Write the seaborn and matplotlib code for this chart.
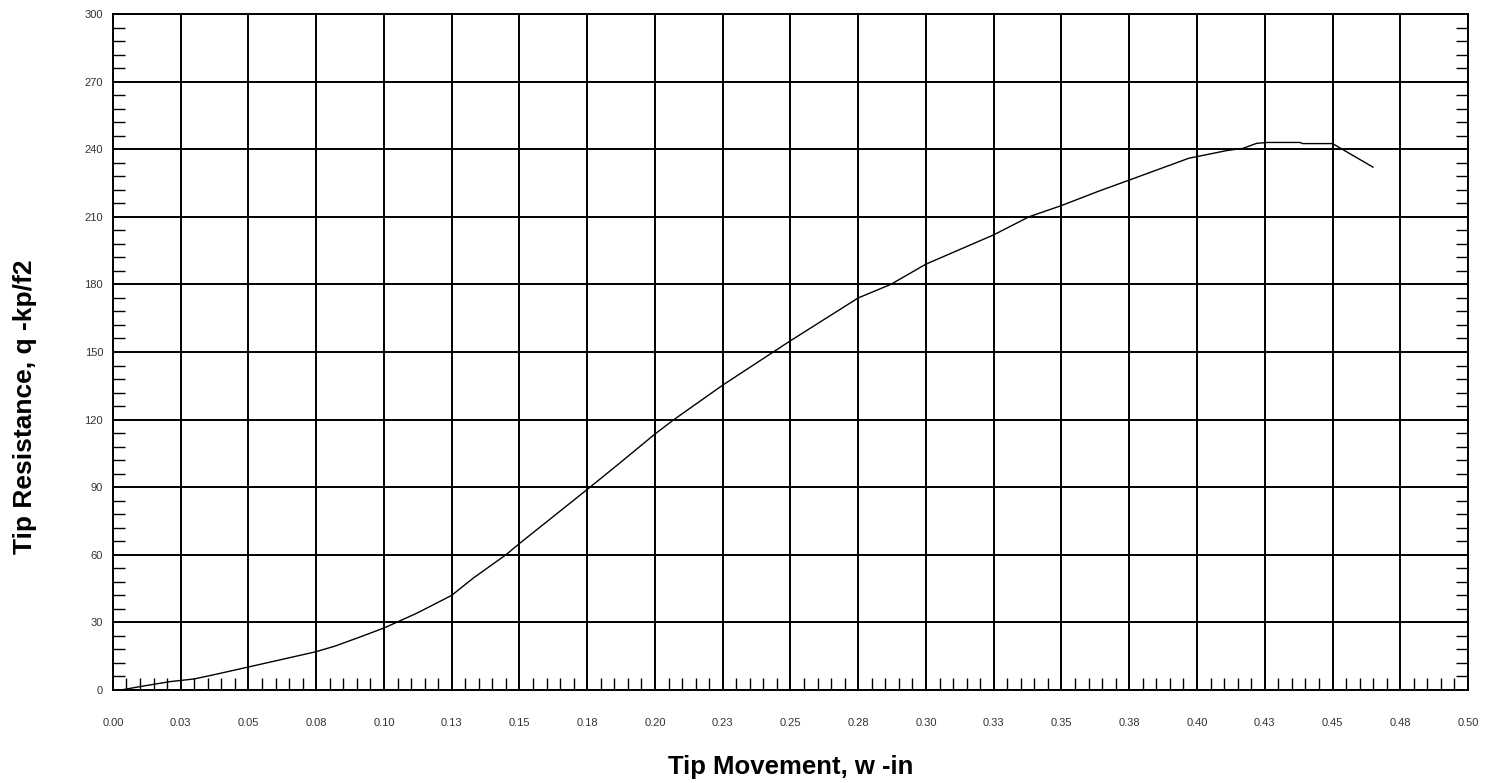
import numpy as np
import pandas as pd
import matplotlib
matplotlib.use("Agg")
import matplotlib.pyplot as plt
from matplotlib.ticker import MultipleLocator, FixedLocator
import seaborn as sns

tip_movement = [0.003, 0.010, 0.021, 0.030, 0.037, 0.050, 0.075, 0.082, 0.090,
                0.100, 0.112, 0.125, 0.133, 0.145, 0.150, 0.175, 0.187, 0.200,
                0.207, 0.225, 0.250, 0.275, 0.287, 0.300, 0.325, 0.338, 0.350,
                0.364, 0.375, 0.397, 0.411, 0.417, 0.422, 0.426, 0.438, 0.439,
                0.450, 0.465]
tip_resistance = [0.0, 1.5, 3.7, 4.9, 6.7, 10.2, 17.0, 19.5, 23.0,
                  27.5, 34.0, 42.0, 49.7, 60.0, 65.0, 89.0, 100.7, 113.6,
                  120.0, 135.3, 155.0, 174.0, 180.0, 189.0, 202.0, 210.0, 215.0,
                  221.5, 226.3, 236.0, 239.4, 240.4, 242.6, 243.0, 243.0, 242.5,
                  242.5, 232.0]

x_ticks = [0.0, 0.025, 0.05, 0.075, 0.1, 0.125, 0.15, 0.175, 0.2, 0.225, 0.25,
           0.275, 0.3, 0.325, 0.35, 0.375, 0.4, 0.425, 0.45, 0.475, 0.5]
x_tick_labels = ['0.00', '0.03', '0.05', '0.08', '0.10', '0.13', '0.15', '0.18',
                 '0.20', '0.23', '0.25', '0.28', '0.30', '0.33', '0.35', '0.38',
                 '0.40', '0.43', '0.45', '0.48', '0.50']
y_ticks = [0, 30, 60, 90, 120, 150, 180, 210, 240, 270, 300]

df = pd.DataFrame({'w': tip_movement, 'q': tip_resistance})

sns.set_theme(style='white')
plt.rcParams['font.family'] = ['Liberation Sans', 'DejaVu Sans']

fig = plt.figure(figsize=(14.86, 7.83), dpi=100)
ax = fig.add_axes([0.0760, 0.1188, 0.9119, 0.8633])

sns.lineplot(data=df, x='w', y='q', sort=False, color='black', linewidth=1.0,
             ax=ax, estimator=None)

ax.set_xlim(0, 0.5)
ax.set_ylim(0, 300)

ax.xaxis.set_major_locator(FixedLocator(x_ticks))
ax.set_xticklabels(x_tick_labels)
ax.xaxis.set_minor_locator(MultipleLocator(0.005))
ax.yaxis.set_major_locator(FixedLocator(y_ticks))
ax.yaxis.set_minor_locator(MultipleLocator(6))

ax.grid(True, which='major', color='black', linewidth=1.4)
ax.tick_params(which='major', length=0, labelsize=8, labelcolor='#333333')
ax.tick_params(axis='x', which='major', pad=20)
ax.tick_params(axis='y', which='major', pad=7)
ax.tick_params(which='minor', direction='in', length=8.5, width=1.0, color='black')
ax.tick_params(axis='y', which='minor', left=True, right=True)
ax.tick_params(axis='x', which='minor', bottom=True, top=False)

for sp in ax.spines.values():
    sp.set_visible(True)
    sp.set_color('black')
    sp.set_linewidth(1.4)

ax.set_xlabel('Tip Movement, w -in', fontsize=18.5, fontweight='bold', color='black')
ax.set_ylabel('Tip Resistance, q -kp/f2', fontsize=19, fontweight='bold', color='black')
ax.xaxis.set_label_coords(0.5, -0.096)
ax.yaxis.set_label_coords(-0.056, 0.419)

plt.savefig('out.png', dpi=100)
